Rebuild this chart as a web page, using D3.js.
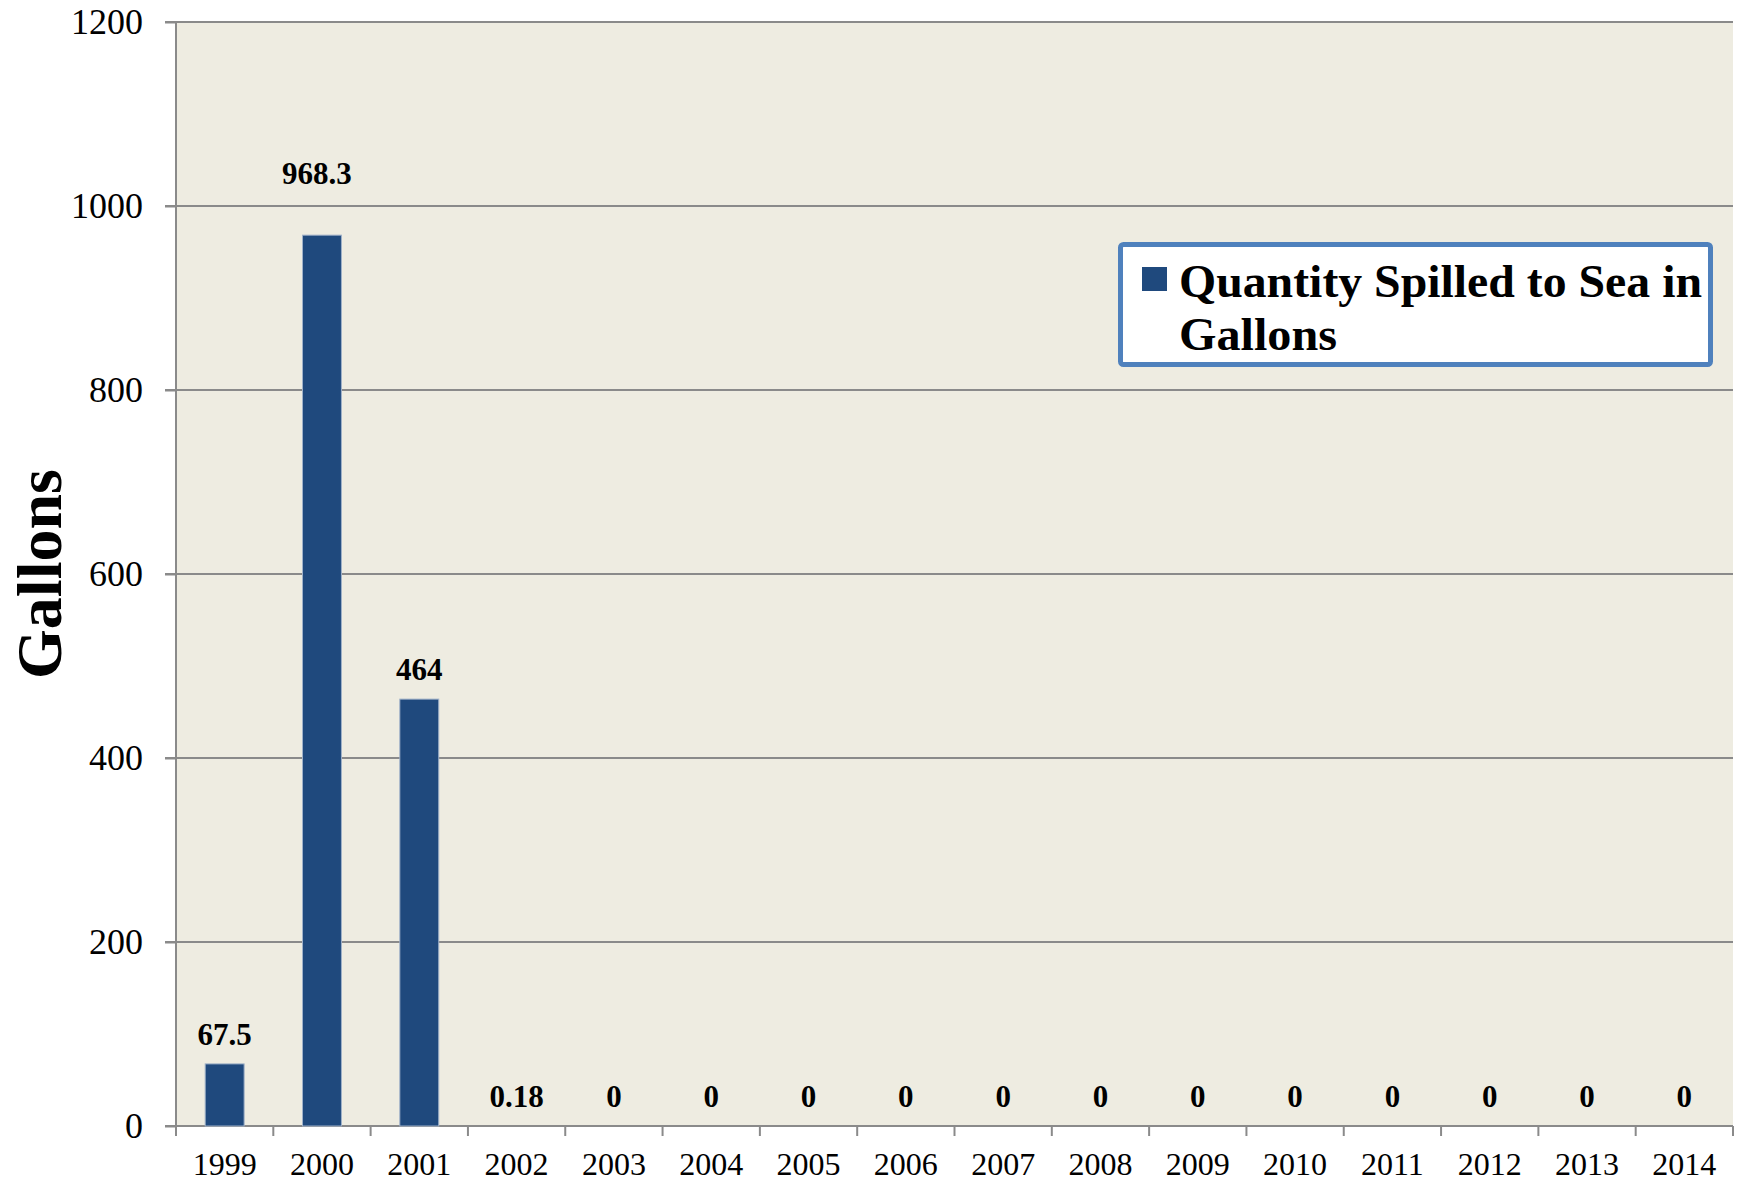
<!DOCTYPE html>
<html lang="en">
<head>
    <meta charset="UTF-8">
    <title>Quantity Spilled to Sea in Gallons</title>
    <style>
        body {
          margin: 0;
          background: #fff;
          font-family: "Liberation Serif", "Times New Roman", serif;
        }
        .grid line {
          stroke: #8a8a8a;
          stroke-width: 2px;
        }
        .axis path, .axis line {
          stroke: #8a8a8a;
          stroke-width: 2px;
        }
        .bar {
          fill: #1f497d;
          stroke: #9fb1c9;
          stroke-width: 1px;
        }
        .label {
          font-weight: bold;
          font-size: 31px;
          text-anchor: middle;
        }
    </style>
</head>
<body>
    <script src="https://d3js.org/d3.v7.min.js"></script>
    <script>
        // data
        var years = ["1999", "2000", "2001", "2002", "2003", "2004", "2005", "2006",
                     "2007", "2008", "2009", "2010", "2011", "2012", "2013", "2014"];
        var gallons = [67.5, 968.3, 464, 0.18, 0, 0, 0, 0, 0, 0, 0, 0, 0, 0, 0, 0];
        var yTicks = [0, 200, 400, 600, 800, 1000, 1200];
        var seriesName = ["Quantity Spilled to Sea in", "Gallons"];
        var yTitle = "Gallons";

        (function() {
        var width = 1741,
            height = 1181,
            plotLeft = 176,
            plotRight = 1733,
            plotTop = 22,
            plotBottom = 1126;

        var svg = d3.select("body").append("svg")
            .attr("width", width)
            .attr("height", height);

        var x = d3.scaleBand()
            .domain(years)
            .range([plotLeft, plotRight])
            .padding(0);

        var y = d3.scaleLinear()
            .domain([0, 1200])
            .range([plotBottom, plotTop]);

        // plot background
        svg.append("rect")
            .attr("x", plotLeft)
            .attr("y", plotTop)
            .attr("width", plotRight - plotLeft)
            .attr("height", plotBottom - plotTop)
            .attr("fill", "#eeece1");

        // gridlines (with the small tick to the left of the axis)
        svg.append("g")
            .attr("class", "grid")
          .selectAll("line")
          .data(yTicks.filter(function(d) { return d > 0; }))
          .enter().append("line")
            .attr("x1", plotLeft - 11)
            .attr("x2", plotRight)
            .attr("y1", function(d) { return y(d); })
            .attr("y2", function(d) { return y(d); });

        // y axis
        var yAxis = svg.append("g")
            .attr("class", "axis")
            .attr("transform", "translate(" + plotLeft + ",0)")
            .call(d3.axisLeft(y).tickValues(yTicks).tickFormat(d3.format("d"))
              .tickSize(11).tickPadding(22).tickSizeOuter(0));
        yAxis.select(".domain").attr("d", "M0," + plotTop + "V" + plotBottom);
        yAxis.selectAll("text")
            .attr("font-family", "Liberation Serif, Times New Roman, serif")
            .attr("font-size", "36px")
            .attr("fill", "#000")
            .attr("dy", "0.33em");

        // x axis
        var xAxis = svg.append("g")
            .attr("class", "axis")
            .attr("transform", "translate(0," + plotBottom + ")");
        xAxis.append("line")
            .attr("x1", plotLeft - 11)
            .attr("x2", plotRight)
            .attr("y1", 0)
            .attr("y2", 0);
        xAxis.selectAll(".xtick")
            .data(years.concat(["end"]))
          .enter().append("line")
            .attr("class", "xtick")
            .attr("x1", function(d, i) { return i < years.length ? x(d) : plotRight; })
            .attr("x2", function(d, i) { return i < years.length ? x(d) : plotRight; })
            .attr("y1", 0)
            .attr("y2", 10);
        xAxis.selectAll(".xlabel")
            .data(years)
          .enter().append("text")
            .attr("class", "xlabel")
            .attr("x", function(d) { return x(d) + x.bandwidth() / 2; })
            .attr("y", 49)
            .attr("text-anchor", "middle")
            .attr("font-size", "32px")
            .text(function(d) { return d; });

        // bars
        var barW = x.bandwidth() * 0.4;
        svg.append("g")
          .selectAll("rect")
          .data(gallons)
          .enter().append("rect")
            .attr("class", "bar")
            .attr("x", function(d, i) { return x(years[i]) + (x.bandwidth() - barW) / 2; })
            .attr("y", function(d) { return y(d); })
            .attr("width", barW)
            .attr("height", function(d) { return plotBottom - y(d); })
            .style("display", function(d) { return d >= 1 ? null : "none"; });

        // data labels; the tallest one was pulled up above the 1000 gridline
        var maxVal = d3.max(gallons);
        svg.append("g")
          .selectAll("text")
          .data(gallons)
          .enter().append("text")
            .attr("class", "label")
            .attr("x", function(d, i) {
              return x(years[i]) + x.bandwidth() / 2 + (d === maxVal ? -5 : 0);
            })
            .attr("y", function(d) {
              return d === maxVal ? y(1000) - 22 : y(d) - 19;
            })
            .text(function(d) { return String(d); });

        // y title
        svg.append("text")
            .attr("transform", "translate(61,574) rotate(-90)")
            .attr("text-anchor", "middle")
            .attr("font-weight", "bold")
            .attr("font-size", "64px")
            .text(yTitle);

        // legend
        var legend = svg.append("g");
        legend.append("rect")
            .attr("x", 1120.5)
            .attr("y", 244.5)
            .attr("width", 590)
            .attr("height", 120)
            .attr("rx", 3)
            .attr("fill", "#fff")
            .attr("stroke", "#4f81bd")
            .attr("stroke-width", 5);
        legend.append("rect")
            .attr("x", 1142)
            .attr("y", 267)
            .attr("width", 25)
            .attr("height", 24)
            .attr("fill", "#1f497d");
        legend.selectAll(".ltext")
            .data(seriesName)
          .enter().append("text")
            .attr("class", "ltext")
            .attr("x", 1179)
            .attr("y", function(d, i) { return 297 + i * 53; })
            .attr("font-weight", "bold")
            .attr("font-size", "47px")
            .attr("textLength", function(d, i) { return i === 0 ? 523 : 158; })
            .attr("lengthAdjust", "spacingAndGlyphs")
            .text(function(d) { return d; });
        })();
    </script>
</body>
</html>
